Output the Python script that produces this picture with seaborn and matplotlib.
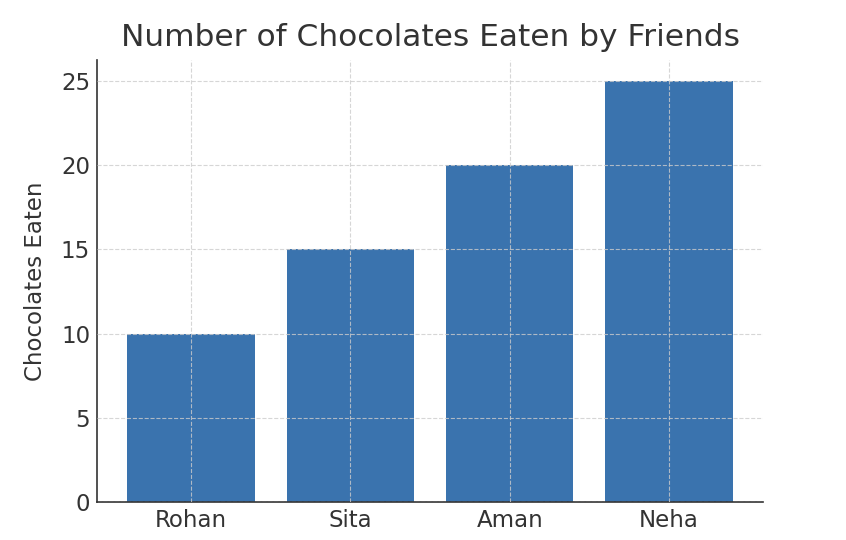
import matplotlib
matplotlib.use("Agg")
import matplotlib.pyplot as plt
import seaborn as sns
import pandas as pd

friends = ["Rohan", "Sita", "Aman", "Neha"]
chocolates = [10, 15, 20, 25]

sns.set_style("white")
plt.rcParams['font.family'] = ['DejaVu Sans']
txt = "#333333"

df = pd.DataFrame({"Friend": friends, "Chocolates": chocolates})
fig = plt.figure(figsize=(8.46, 5.4), dpi=100)
ax = fig.add_axes([0.1147, 0.0704, 0.7873, 0.8186])
sns.barplot(data=df, x="Friend", y="Chocolates", color="#3a73ae", saturation=1,
            width=0.8, ax=ax, zorder=2, linewidth=0)
ax.set_xlim(-0.59, 3.59)
ax.set_ylim(0, 26.25)
ax.set_yticks([0, 5, 10, 15, 20, 25])
ax.grid(True, linestyle="--", color="#cccccc", linewidth=0.8, alpha=0.8, zorder=3)
ax.set_axisbelow(False)
for s in ["top", "right"]:
    ax.spines[s].set_visible(False)
for s in ["left", "bottom"]:
    ax.spines[s].set_color(txt)
    ax.spines[s].set_linewidth(1.2)
ax.tick_params(axis="both", direction="in", length=4, colors=txt, labelsize=16.5,
               labelcolor=txt, pad=5)
ax.set_xlabel("")
ax.set_ylabel("Chocolates Eaten", fontsize=16.5, color=txt, labelpad=10)
ax.set_title("Number of Chocolates Eaten by Friends", fontsize=22.5, color=txt, pad=10)
fig.savefig("out.png", dpi=100)
